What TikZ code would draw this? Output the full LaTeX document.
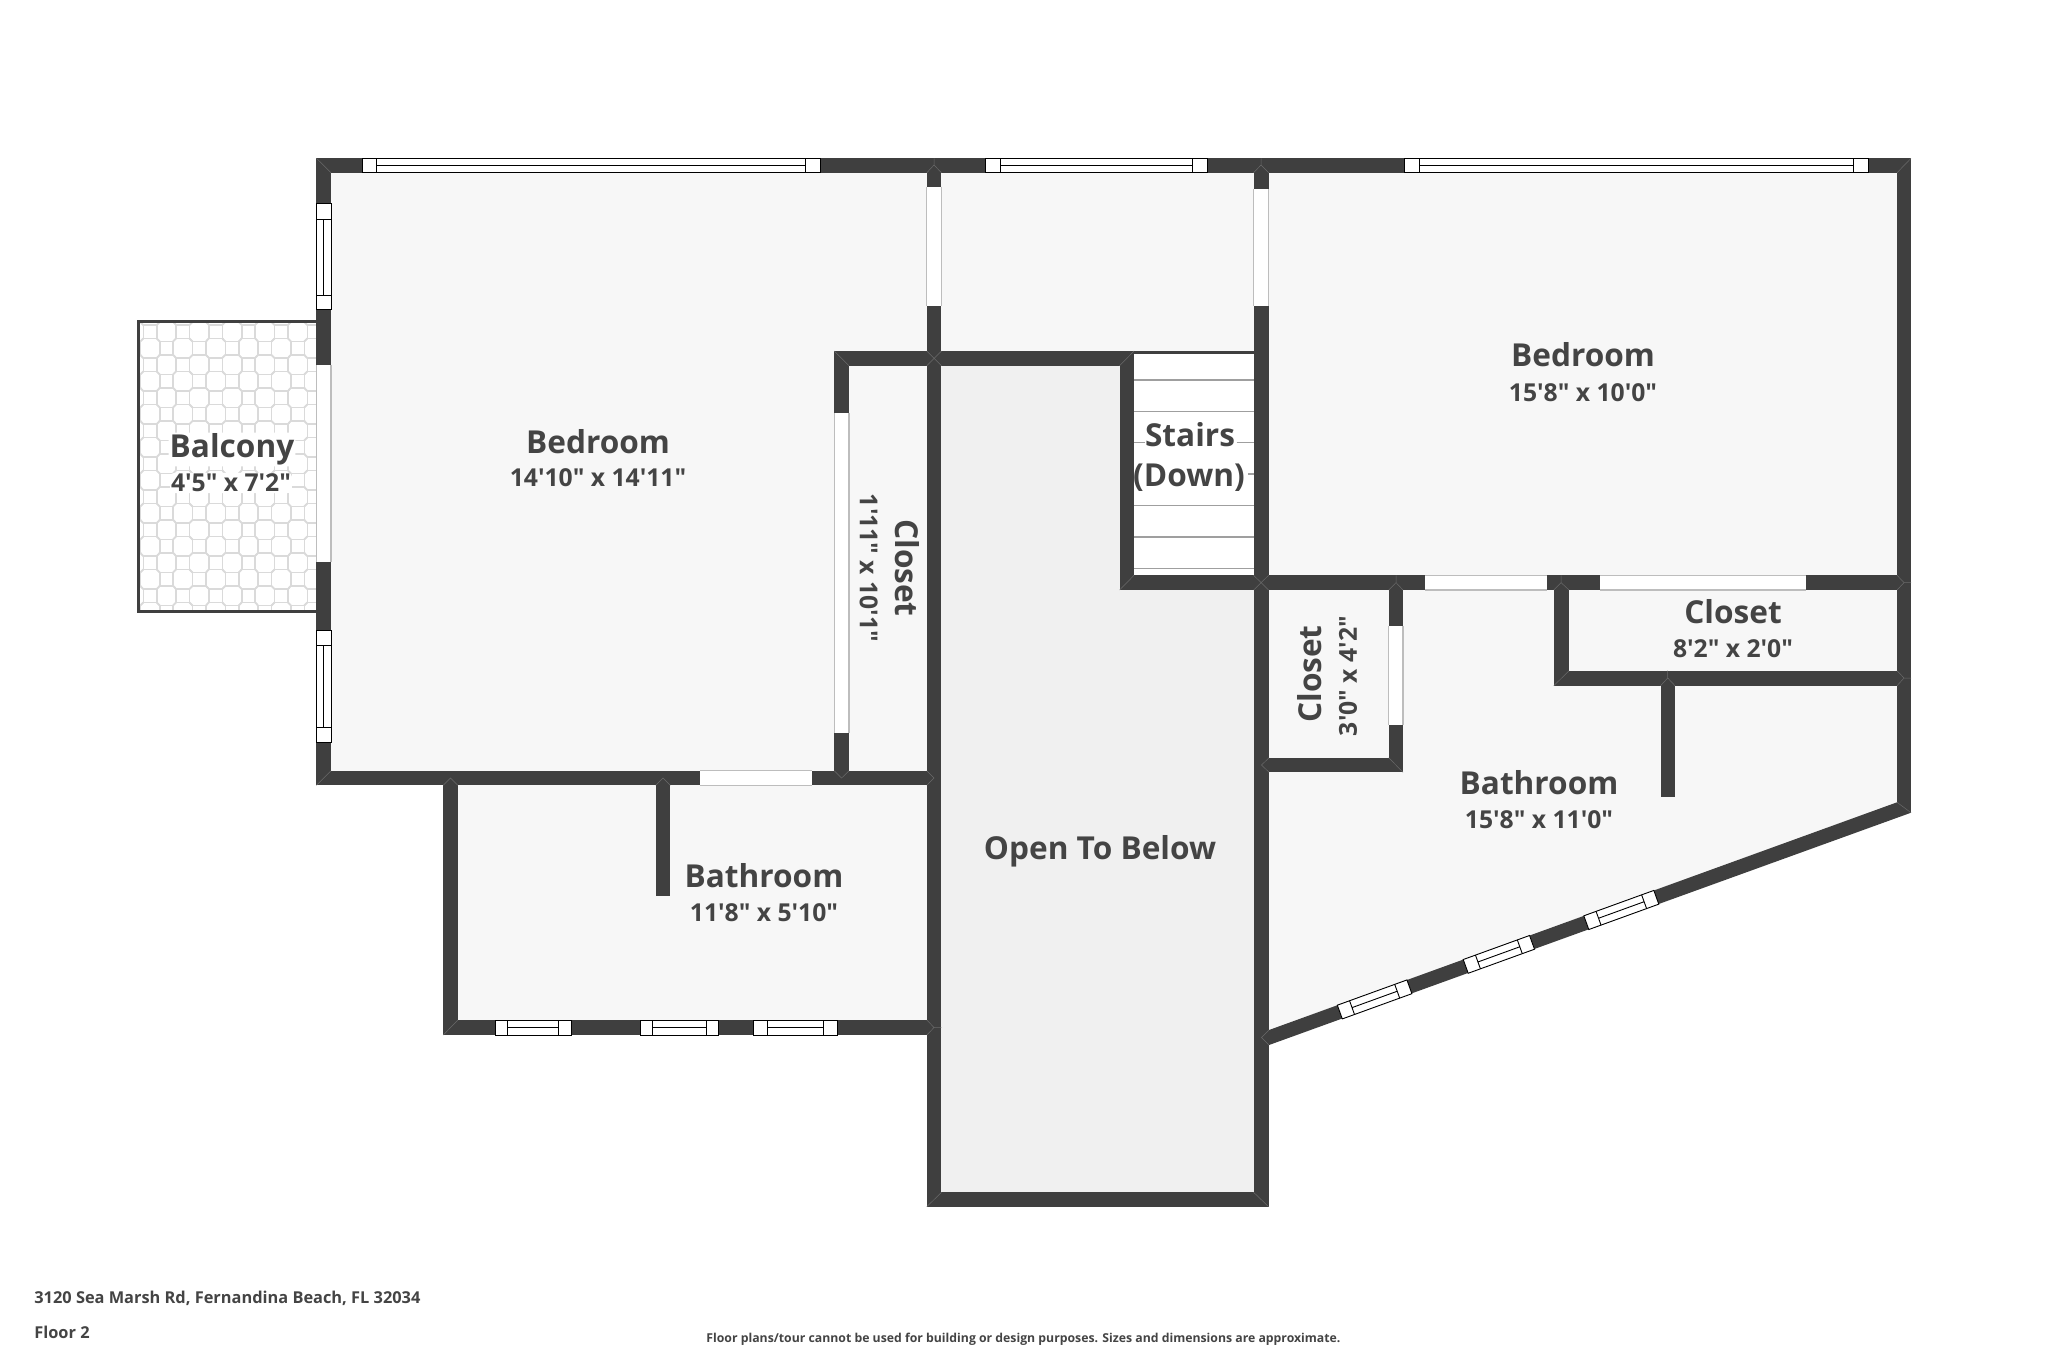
\documentclass[tikz,border=0pt]{standalone}
\usepackage{fontspec}
\newfontfamily\osans{Open Sans}
\definecolor{wallc}{HTML}{3F3F3F}
\definecolor{floorc}{HTML}{F7F7F7}
\definecolor{openc}{HTML}{F0F0F0}
\definecolor{textc}{HTML}{444444}
\definecolor{edgec}{HTML}{BDBDBD}
\definecolor{tilec}{HTML}{DADADA}
\definecolor{mitrec}{HTML}{6A6A6A}
\newcommand{\wl}[4]{\fill[wallc] (#1,#2) rectangle (#3,#4);}
% horizontal window: x0 x1 x2 x3 ytop ybot
\newcommand{\hwin}[6]{\draw[winline,fill=white] (#1,#5) rectangle (#4,#6);
 \draw[winline] (#2,#5) -- (#2,#6) (#3,#5) -- (#3,#6) (#2,{(#5+#6)/2}) -- (#3,{(#5+#6)/2});}
% vertical window: y0 y1 y2 y3 xleft xright
\newcommand{\vwin}[6]{\draw[winline,fill=white] (#5,#1) rectangle (#6,#4);
 \draw[winline] (#5,#2) -- (#6,#2) (#5,#3) -- (#6,#3) ({(#5+#6)/2},#2) -- ({(#5+#6)/2},#3);}
% openings
\newcommand{\hgap}[4]{\fill[white] (#1,#3) rectangle (#2,#4); \draw[gapline] (#1,#3) -- (#2,#3) (#1,#4) -- (#2,#4);}
\newcommand{\vgap}[4]{\fill[white] (#3,#1) rectangle (#4,#2); \draw[gapline] (#3,#1) -- (#3,#2) (#4,#1) -- (#4,#2);}
% window on the sloping wall: centre-line x start, x end
\newcommand{\dwin}[2]{\begin{scope}[shift={(#1,{810+(1897-#1)*0.3626})},rotate=19.93]
 \pgfmathsetmacro{\Ln}{(#2-#1)*1.0638}
 \draw[winline,fill=white] (0,-7.3) rectangle (\Ln,7.3);
 \draw[winline] (13,-7.3) -- (13,7.3) ({\Ln-13},-7.3) -- ({\Ln-13},7.3) (13,0) -- ({\Ln-13},0);
 \end{scope}}
\tikzset{
 winline/.style={draw=black,line width=0.45pt},
 gapline/.style={draw=edgec,line width=0.6pt},
 mitre/.style={draw=mitrec,line width=0.25pt},
 tread/.style={draw=gray!75,line width=0.65pt},
 tile/.style={draw=tilec,line width=0.8pt},
 rname/.style={text=textc,font=\osans\fontsize{15.8}{18}\selectfont\bfseries,inner sep=0.5pt},
 rdim/.style={text=textc,font=\osans\fontsize{12.35}{15}\selectfont\bfseries,inner sep=0.5pt},
 halo/.style={fill=white,rounded corners=2pt}
}
\begin{document}
\begin{tikzpicture}[x=0.5pt,y=-0.5pt]
\useasboundingbox (0,0) rectangle (2048,1365);
\fill[white] (0,0) rectangle (2048,1365);
% floors
\fill[floorc] (331,172) rectangle (927,771);
\fill[floorc] (849,365) rectangle (927,771);
\fill[floorc] (941,172) rectangle (1254,351);
\fill[floorc] (1269,172) rectangle (1897,575);
\fill[floorc] (458,785) rectangle (927,1020);
\fill[floorc] (1269,590) -- (1897,590) -- (1897,803) -- (1269,1031) -- cycle;
\fill[openc] (941,365) rectangle (1254,1193);
\fill[white] (1134,354) rectangle (1254,575);
% balcony tiles
\begin{scope}
\clip (140,323) rectangle (316.4,610);
\foreach \i in {-1,...,12}{\foreach \j in {-1,...,18}{
 \pgfmathsetmacro{\cx}{150+\i*16.4}
 \pgfmathsetmacro{\cy}{331.7+\j*16.5}
 \pgfmathparse{int(mod(\i+\j+100,2))}
 \ifnum\pgfmathresult=0
  \draw[tile] (\cx-6.7,\cy-6.7) rectangle (\cx+6.7,\cy+6.7);
  \draw[tile] (\cx+6.7,\cy+6.7) -- (\cx+9.7,\cy+9.8) (\cx-6.7,\cy-6.7) -- (\cx-9.7,\cy-9.8)
              (\cx+6.7,\cy-6.7) -- (\cx+9.7,\cy-9.8) (\cx-6.7,\cy+6.7) -- (\cx-9.7,\cy+9.8);
 \fi
}}
\end{scope}
\draw[wallc,line width=1.6pt] (316.4,321.5) -- (138.4,321.5) -- (138.4,611.2) -- (316.4,611.2);
% stair treads, broken round the label
\foreach \y in {380,411.3,505.7,537,568.3}{\draw[tread] (1134,\y) -- (1253.6,\y);}
\draw[tread] (1134,442.7) -- (1144.6,442.7) (1236.5,442.7) -- (1253.6,442.7) (1248,474) -- (1253.6,474);
% outer and inner walls
\wl{316.4}{158.3}{1911}{172.7}
\wl{316.4}{158.3}{331}{785.3}
\wl{316.4}{770.7}{941.4}{785.3}
\wl{926.8}{158.3}{941.4}{1206.7}
\wl{1253.6}{158.3}{1269}{1206.7}
\wl{926.8}{1192.3}{1269}{1206.7}
\wl{1897}{158.3}{1911}{812.7}
\wl{443.2}{770.7}{457.9}{1035}
\wl{443.2}{1020}{941.4}{1035}
\wl{655.7}{785}{670.4}{896.3}
\wl{834.3}{351}{1134}{365.7}
\wl{834.3}{351}{849}{785}
\wl{1134}{351}{1254}{354}
\wl{1119.6}{351}{1134}{590}
\wl{1119.6}{575.3}{1911}{590}
\wl{1388.7}{575.3}{1403}{772.3}
\wl{1254}{757.7}{1403}{772.3}
\wl{1553.8}{575.3}{1569}{685.7}
\wl{1553.8}{670.7}{1911}{685.7}
\wl{1660.5}{685}{1675}{796.7}
\fill[wallc] (1897,802.3) -- (1911,812.7) -- (1269,1045) -- (1269,1030) -- cycle;
% openings
\vgap{365.3}{562}{316.4}{331}
\vgap{186.7}{305.7}{926.8}{941.4}
\vgap{189}{305.7}{1253.6}{1268.6}
\vgap{413.3}{732.6}{834.3}{849}
\hgap{700.4}{811.8}{770.7}{785.3}
\hgap{1425.3}{1546.7}{575.3}{590}
\hgap{1600.3}{1806}{575.3}{590}
\vgap{626}{725}{1388.7}{1403}
% windows
\hwin{362}{376.4}{805.7}{820.4}{158.3}{172.7}
\hwin{985.7}{1000}{1192.9}{1207.9}{158.3}{172.7}
\hwin{1404.7}{1419.5}{1853.8}{1868.6}{158.3}{172.7}
\vwin{203}{219}{295}{309.3}{316.4}{331}
\vwin{630.7}{645}{727}{742.7}{316.4}{331}
\hwin{495.4}{507.9}{558.6}{571}{1020}{1035}
\hwin{640}{652.9}{706}{718.6}{1020}{1035}
\hwin{753.6}{767.5}{823.6}{837.1}{1020}{1035}
\dwin{1339.8}{1409.4}
\dwin{1465.7}{1532}
\dwin{1586.3}{1656.3}
% mitre lines at junctions
\draw[mitre] (316.4,158.3) -- (331,172.7) (1911,158.3) -- (1897,172.7)
 (926.8,172.7) -- (934,165) -- (941.4,172.7) (934,158.3) -- (934,165)
 (1253.6,172.7) -- (1261,165) -- (1268.6,172.7) (1261,158.3) -- (1261,165)
 (834.3,351) -- (849,365.7) (926.8,351) -- (941.4,365.7) (941.4,351) -- (926.8,365.7)
 (1119.6,590) -- (1134,575.3) (1134,351) -- (1119.6,365.7)
 (1253.6,575.3) -- (1268.6,590) (1268.6,575.3) -- (1253.6,590)
 (316.4,785.3) -- (331,770.7) (443.2,785.3) -- (450.5,778) -- (457.9,785.3)
 (655.7,785.3) -- (663,778) -- (670.4,785.3) (834.3,770.7) -- (841.6,778) -- (849,770.7)
 (926.8,770.7) -- (934,778) -- (926.8,785.3) (443.2,1035) -- (457.9,1020)
 (926.8,1020) -- (934,1027.5) -- (926.8,1035) (934,1027.5) -- (941.4,1027.5)
 (926.8,1206.7) -- (941.4,1192.3) (1268.6,1206.7) -- (1253.6,1192.3)
 (1388.7,590) -- (1396,582.6) -- (1403,590) (1396,575.3) -- (1396,582.6)
 (1403,772.3) -- (1388.7,757.7) (1269,757.7) -- (1261.5,765) -- (1269,772.3)
 (1553.8,685.7) -- (1569,670.7) (1553.8,590) -- (1561,582.6) -- (1569,590) (1561,575.3) -- (1561,582.6)
 (1660.5,685.7) -- (1667.7,678) -- (1675,685.7) (1667.7,670.7) -- (1667.7,678)
 (1897,670.7) -- (1904,678) -- (1897,685.7) (1904,678) -- (1911,678)
 (1897,575.3) -- (1904,582.6) -- (1897,590) (1904,582.6) -- (1911,582.6)
 (1897,802.3) -- (1911,812.7)
 (1269,1030) -- (1261.5,1037.5) -- (1269,1045);
% labels
\node[rname] (bed1) at (598,442) {Bedroom};
\node[rdim] (bed1d) at (598,478) {14'10" x 14'11"};
\node[rname,halo] (balc) at (232,449.5) {Balcony};
\node[rdim,halo] (balcd) at (231,483) {4'5" x 7'2"};
\node[rname,rotate=-90] (clo1) at (907.5,568) {Closet};
\node[rdim,rotate=-90] (clo1d) at (868.6,568) {1'11" x 10'1"};
\node[rname] (st1) at (1190,435) {Stairs};
\node[rname] (st2) at (1189,478) {(Down)};
\node[rname] (bed2) at (1583,355) {Bedroom};
\node[rdim] (bed2d) at (1583,393) {15'8" x 10'0"};
\node[rname,rotate=90] (clo2) at (1310,674) {Closet};
\node[rdim,rotate=90] (clo2d) at (1348,676) {3'0" x 4'2"};
\node[rname] (clo3) at (1733,612) {Closet};
\node[rdim] (clo3d) at (1733,649) {8'2" x 2'0"};
\node[rname] (bath2) at (1539,783) {Bathroom};
\node[rdim] (bath2d) at (1539,820) {15'8" x 11'0"};
\node[rname] (bath1) at (764,876) {Bathroom};
\node[rdim] (bath1d) at (764,913) {11'8" x 5'10"};
\node[rname] (open) at (1100,851.5) {Open To Below};
\node[anchor=west,text=textc,inner sep=0pt,font=\osans\fontsize{8.18}{10}\selectfont\bfseries] (addr) at (34,1298) {3120 Sea Marsh Rd, Fernandina Beach, FL 32034};
\node[anchor=west,text=textc,inner sep=0pt,font=\osans\fontsize{8.18}{10}\selectfont\bfseries] (flr) at (34,1332) {Floor 2};
\node[anchor=west,text=textc,inner sep=0pt,font=\osans\fontsize{6.13}{8}\selectfont\bfseries] (disc) at (706,1339) {Floor plans/tour cannot be used for building or design purposes. Sizes and dimensions are approximate.};
\end{tikzpicture}
\end{document}
